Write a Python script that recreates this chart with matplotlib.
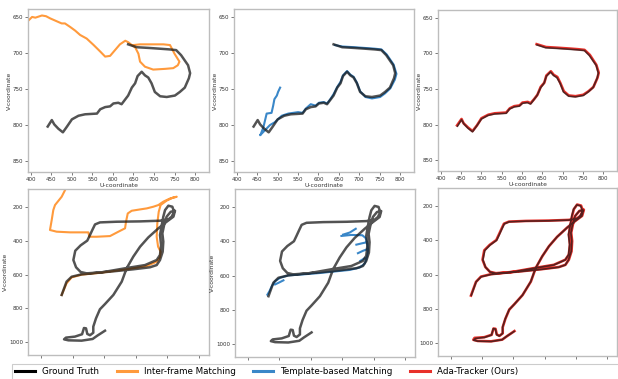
import numpy as np
import matplotlib
matplotlib.use("Agg")
import matplotlib.pyplot as plt
from matplotlib.lines import Line2D
from matplotlib.patches import Rectangle

nan = float('nan')

# ---------------- top row data (U, V) ----------------
gt_top_u = [441,451,457,467,478,488,500,516,532,561,569,581,593,601,613,621,629,637,646,654,660,670,678,686,694,702,715,731,751,763,775,785,788,783,766,754,737,713,688,658,637]
gt_top_v = [802,793,799,805,810,802,792,787,785,784,778,775,774,770,769,771,765,759,748,742,732,726,731,734,742,754,760,761,759,754,748,735,728,717,703,696,695,694,693,692,688]

inter_top_u = [394,403,411,427,437,447,463,475,483,496,508,520,536,553,569,581,593,605,617,630,637,646,654,662,666,678,698,727,747,758,762,750,739,723,690,666,650]
inter_top_v = [655,650,651,648,649,652,656,659,659,664,669,675,680,689,698,705,704,696,688,683,685,689,692,701,712,719,723,722,721,717,712,701,689,688,688,688,689]

tmpl_top_u = [506,501,498,492,489,485,473,465,459,457,469,481,493,510,526,550,561,569,581,593,601,613,621,629,637,646,654,660,670,678,686,694,702,715,731,751,763,776,787,791,784,767,754,737,713,688,658,640]
tmpl_top_v = [748,754,759,764,773,783,784,803,812,814,807,800,796,787,784,782,783,777,771,773,769,768,770,764,757,747,740,731,725,730,733,741,753,761,763,761,756,749,737,729,716,702,695,694,693,692,691,689]

ada_top_u = [440,451,456,467,478,489,500,517,533,561,570,581,594,601,614,621,630,638,646,655,660,671,678,687,694,703,715,732,751,764,776,786,789,783,767,754,737,714,688,659,636]
ada_top_v = [801,792,798,804,809,801,791,786,784,783,777,774,773,769,768,770,764,758,747,741,731,725,730,733,741,753,759,760,758,753,747,734,727,716,702,695,694,693,692,691,687]

# ---------------- bottom row data (U, V) ----------------
gt_bot_u = [331,362,394,457,584,732,858,932,953,960,953,964,974,985,1006,1031,1042,1027,1006,953,827,679,573,542,527,510,493,451,417,405,422,451,489,637,784,890,932,953,970,974,968,979,995,1021,1048,1038,995,943,879,827,784,742,711,658,605,573,548,531,531,510,493,485,472,460,415,358,346,373,457,527,557,605]
gt_bot_v = [721,642,613,599,587,563,544,514,484,425,366,307,257,218,192,198,228,257,273,281,285,287,291,303,332,366,399,427,459,514,557,585,593,583,569,557,544,514,465,405,356,307,257,228,222,257,287,326,380,435,494,563,642,721,775,806,860,909,945,960,952,919,917,954,968,974,984,990,992,982,962,933]

inter_bot_u = [358,331,289,278,268,257,299,384,500,506,552,637,690,732,738,749,774,827,869,911,943,974,1017,1059,1038,995,957,945,936,932,941,957,953,932,869,742,584,457,394,362,331]
inter_bot_v = [89,139,188,218,277,336,346,350,350,376,376,372,346,326,287,238,222,214,208,198,188,168,149,139,143,162,188,228,297,376,435,465,498,524,550,569,589,601,617,652,721]

tmpl_bot_u = [324,337,352,373,405,457,552,658,763,848,911,943,957,964,960,949,928,858,795, nan,
              806,848,886, nan, 890,926,957, nan, 900,932,962, nan, 915,943, nan, 373,400,426]
tmpl_bot_v = [712,692,662,633,613,599,593,585,575,567,553,530,494,455,415,380,364,362,368, nan,
              360,348,326, nan, 419,411,405, nan, 469,455,445, nan, 514,498, nan, 652,640,628]

ada_bot_u = [329,361,393,456,585,733,859,933,955,962,955,966,976,987,1008,1033,1045,1029,1007,954,828,680,572,540,525,508,491,449,414,403,421,450,488,638,785,891,933,955,972,976,970,981,996,1023,1051,1040,996,944,880,828,785,743,712,659,606,574,549,532,532,511,494,486,473,461,414,352,344,372,458,529,559,607]
ada_bot_v = [723,643,612,598,586,562,543,513,483,424,365,306,256,217,190,196,227,256,272,280,284,286,290,302,331,365,398,426,458,513,556,584,592,582,568,556,543,513,464,404,355,306,256,227,220,256,286,325,379,434,493,562,641,720,774,805,859,908,944,959,951,918,916,953,967,971,982,989,991,981,961,931]

top_xticks = [400, 450, 500, 550, 600, 650, 700, 750, 800]
top_yticks = [650, 700, 750, 800, 850]
bot_xticks = [200, 400, 600, 800, 1000, 1200]
bot_yticks = [200, 400, 600, 800, 1000]

legend_labels = ["Ground Truth", "Inter-frame Matching", "Template-based Matching", "Ada-Tracker (Ours)"]

C_GT = "#1a1a1a"
C_INTER = "#ff9a3c"
C_TMPL = "#3a87c8"
C_ADA = "#e8302a"

W, H = 618, 379
fig = plt.figure(figsize=(W / 100, H / 100), dpi=100)
fig.patch.set_facecolor("white")


def add_ax(l, r, t, b):
    return fig.add_axes([l / W, 1 - b / H, (r - l) / W, (b - t) / H])


def style(ax, top):
    for s in ax.spines.values():
        s.set_color("#bdbdbd")
        s.set_linewidth(1.0)
    ax.tick_params(axis="both", labelsize=4, length=2, width=0.5, pad=1.5,
                   colors="#444444", labelcolor="#333333")
    if top:
        ax.set_xlim(393, 834)
        ax.set_ylim(865, 639)
        ax.set_xticks(top_xticks)
        ax.set_yticks(top_yticks)
        ax.set_xlabel("U-coordinate", fontsize=4.3, labelpad=1, color="#333333")
    else:
        ax.set_xlim(118, 1263)
        ax.set_ylim(1077, 93)
        ax.set_xticks(bot_xticks)
        ax.set_xticklabels([])
        ax.set_yticks(bot_yticks)


GT_LW = 1.8
GT_A = 0.75
YL = dict(fontsize=4.3, labelpad=0.5, color="#333333")

# top row
ax1 = add_ax(28, 209, 9, 172)
ax1.plot(inter_top_u, inter_top_v, color=C_INTER, lw=1.5, zorder=2)
ax1.plot(gt_top_u, gt_top_v, color=C_GT, lw=GT_LW, alpha=GT_A, zorder=3)
style(ax1, True)
ax1.set_ylabel("V-coordinate", **YL)

ax2 = add_ax(234, 414, 9, 172)
ax2.plot(tmpl_top_u, tmpl_top_v, color=C_TMPL, lw=1.5, zorder=2)
ax2.plot(gt_top_u, gt_top_v, color=C_GT, lw=GT_LW, alpha=GT_A, zorder=3)
style(ax2, True)
ax2.set_ylabel("V-coordinate", **YL)

ax3 = add_ax(438, 617, 10, 171)
ax3.plot(ada_top_u, ada_top_v, color=C_ADA, lw=1.9, zorder=2)
ax3.plot(gt_top_u, gt_top_v, color=C_GT, lw=1.2, alpha=0.7, zorder=3)
style(ax3, True)
ax3.set_ylabel("V-coordinate", **YL)

# bottom row
ax4 = add_ax(28, 209, 189, 355)
ax4.plot(inter_bot_u, inter_bot_v, color=C_INTER, lw=1.5, zorder=2)
ax4.plot(gt_bot_u, gt_bot_v, color=C_GT, lw=GT_LW, alpha=GT_A, zorder=3)
style(ax4, False)
ax4.set_ylabel("V-coordinate", **YL)

ax5 = add_ax(235, 415, 189, 357)
ax5.plot(tmpl_bot_u, tmpl_bot_v, color=C_TMPL, lw=1.5, zorder=2)
ax5.plot(gt_bot_u, gt_bot_v, color=C_GT, lw=GT_LW, alpha=GT_A, zorder=3)
style(ax5, False)
ax5.set_ylabel("V-coordinate", **YL)

ax6 = add_ax(438, 617, 188, 356)
ax6.plot(ada_bot_u, ada_bot_v, color=C_ADA, lw=1.9, zorder=2)
ax6.plot(gt_bot_u, gt_bot_v, color=C_GT, lw=1.2, alpha=0.7, zorder=3)
style(ax6, False)

# legend frame extending beyond the right edge
fig.patches.append(Rectangle((12 / W, -0.05), 1.0, (1 - 364 / H) + 0.05,
                             transform=fig.transFigure, facecolor="white",
                             edgecolor="#cccccc", linewidth=0.8, zorder=0))

handles = [Line2D([], [], color=c, lw=2.2) for c in ("#000000", C_INTER, C_TMPL, C_ADA)]
leg = fig.legend(handles, legend_labels, loc="upper left",
                 bbox_to_anchor=(12 / W, 1 - 364 / H), ncol=4, fontsize=6.3,
                 frameon=False, borderpad=0.35, handlelength=2.3, handletextpad=0.8,
                 columnspacing=2.0, borderaxespad=0)

fig.savefig("out.png", dpi=100, facecolor="white")
